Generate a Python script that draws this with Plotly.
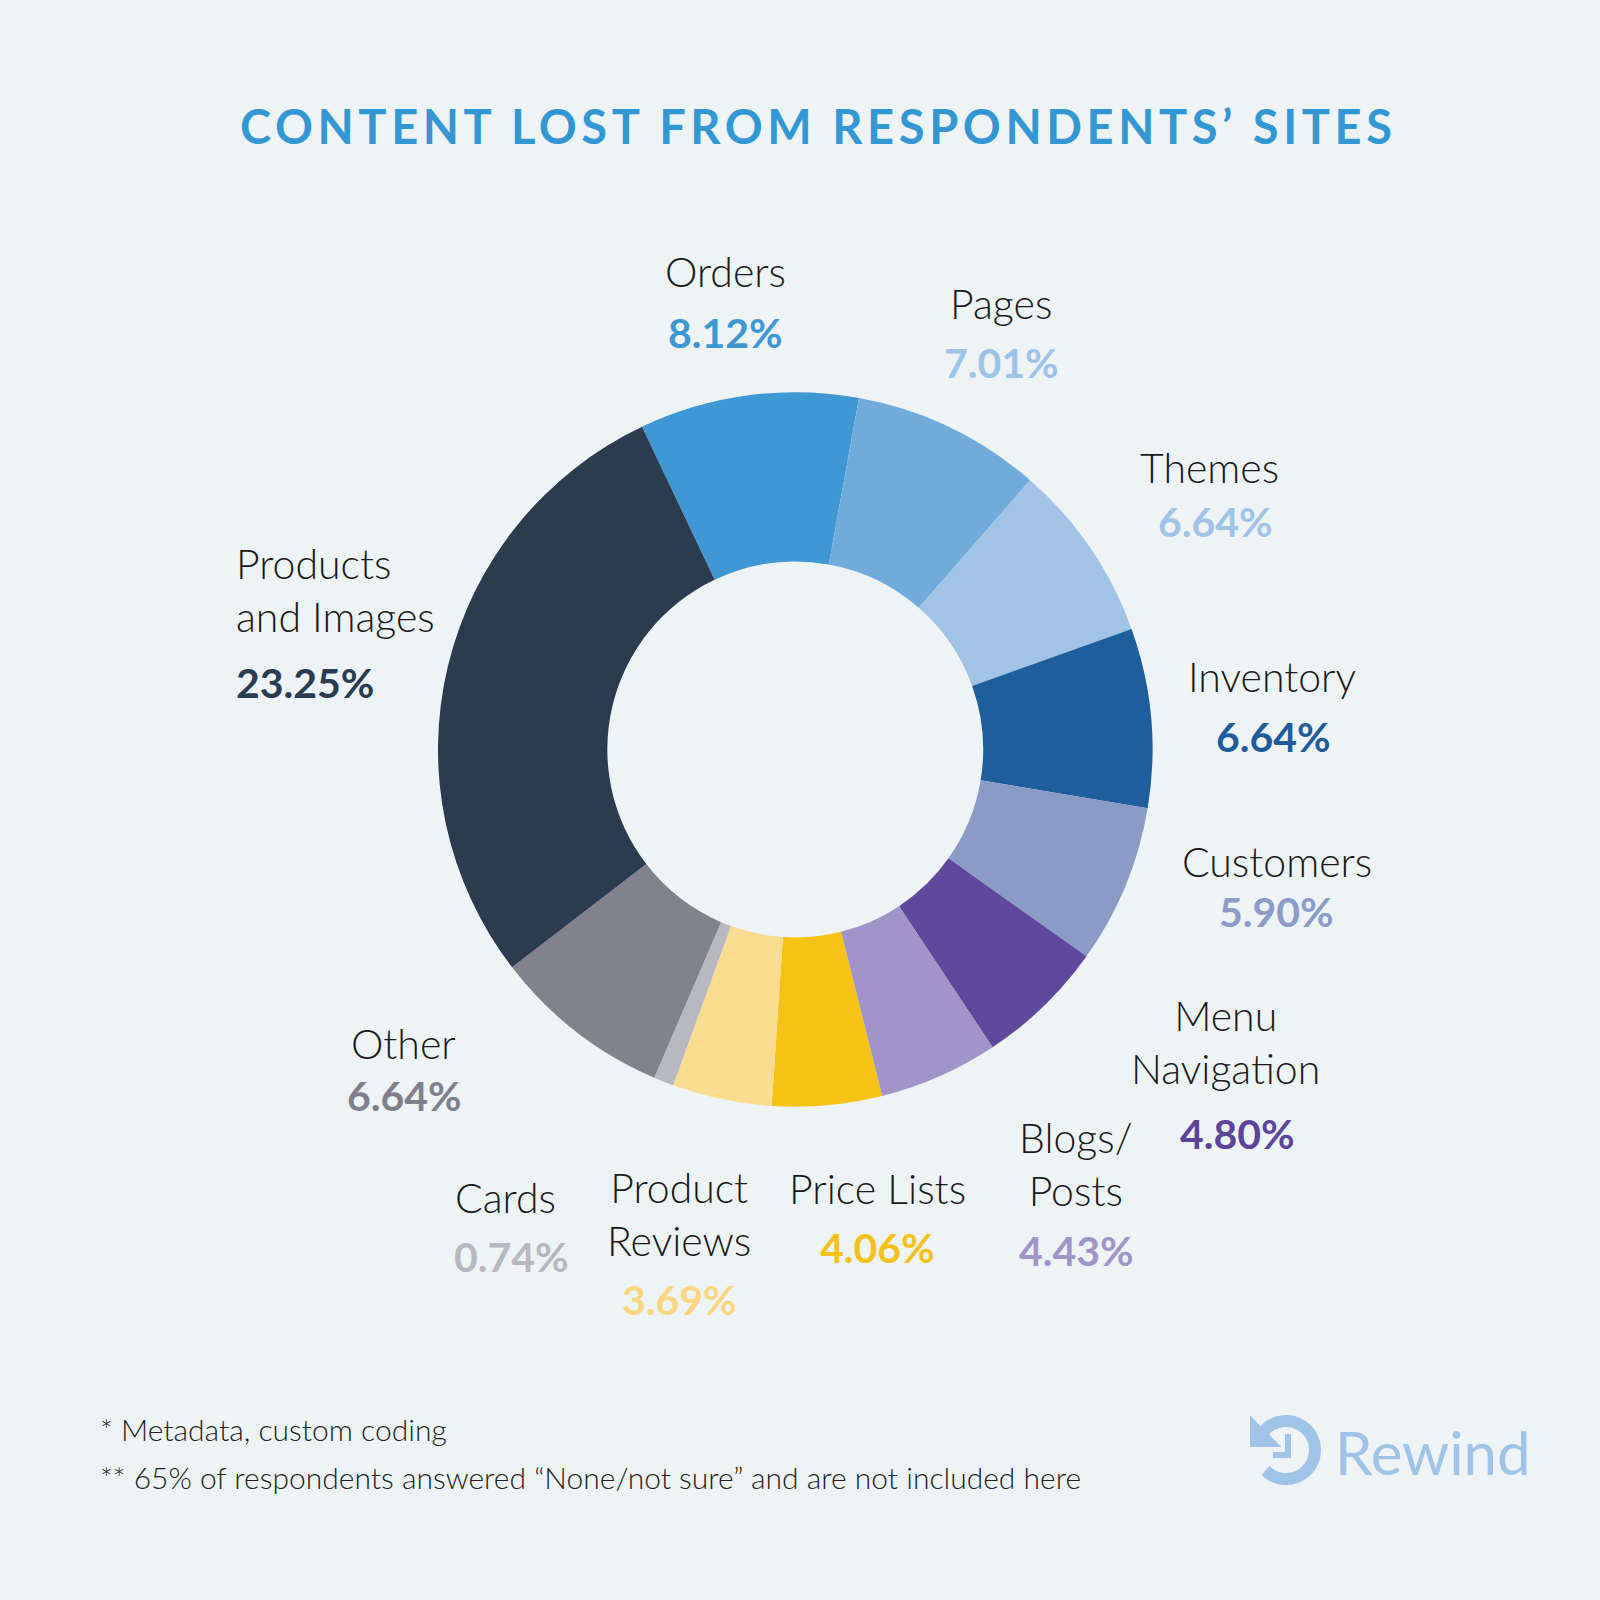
import numpy as np
import plotly.graph_objects as go

W = H = 1600

# data
categories = ["Orders", "Pages", "Themes", "Inventory", "Customers", "Menu Navigation",
              "Blogs/Posts", "Price Lists", "Product Reviews", "Cards", "Other",
              "Products and Images"]
label_text = ["Orders", "Pages", "Themes", "Inventory", "Customers", "Menu<br>Navigation",
              "Blogs/<br>Posts", "Price Lists", "Product<br>Reviews", "Cards", "Other",
              "Products<br>and Images"]
shares = [8.12, 7.01, 6.64, 6.64, 5.90, 4.80, 4.43, 4.06, 3.69, 0.74, 6.64, 23.25]

slice_colors = ["#3F98D4", "#71ABDC", "#A0C3E6", "#1F5E9C", "#8A9CC6", "#60489C",
                "#A194C8", "#F6C315", "#FADD90", "#B8B8C0", "#81828E", "#2B3C50"]
pct_colors = ["#3D97D3", "#9EC3E8", "#A0C4E8", "#1F5C9C", "#8A9CC7", "#5B4499",
              "#A194C8", "#F5C118", "#F9D67F", "#B8B8BE", "#7F808B", "#2A3C51"]

# label placement in pixels: name x, name y, pct x, pct y, anchor
label_pos = [
    (725, 271, 725, 332, "center"),
    (1001, 304, 1001, 363, "center"),
    (1209, 467, 1215, 521, "center"),
    (1272, 676, 1273, 736, "center"),
    (1277, 862, 1276, 911, "center"),
    (1225, 1042, 1237, 1133, "center"),
    (1076, 1164, 1076, 1250, "center"),
    (877, 1188, 877, 1247, "center"),
    (679, 1214, 679, 1299, "center"),
    (505, 1197, 511, 1256, "center"),
    (403, 1043, 404, 1095, "center"),
    (234, 590, 234, 682, "left"),
]

BG = "#EEF3F6"
LIGHT = "Lato Light, Lato"


def px(x):
    return x / W


def py(y):
    return 1 - y / H


fig = go.Figure()
fig.add_trace(go.Pie(
    labels=categories,
    values=shares,
    sort=False,
    direction="clockwise",
    rotation=-25.4,
    hole=0.526,
    marker=dict(colors=slice_colors, line=dict(width=0)),
    textinfo="none",
    hoverinfo="none",
    showlegend=False,
    domain=dict(x=[px(438), px(1152.5)], y=[py(1107), py(392)]),
))

ann = []
for txt, v, col, (nx, ny, qx, qy, anc) in zip(label_text, shares, pct_colors, label_pos):
    ann.append(dict(x=px(nx), y=py(ny), xref="paper", yref="paper", text=txt,
                    showarrow=False, xanchor=anc, yanchor="middle", align=anc,
                    font=dict(family=LIGHT, size=41, weight=300, color="#1A1A1A")))
    ann.append(dict(x=px(qx), y=py(qy), xref="paper", yref="paper", text=f"{v:.2f}%",
                    showarrow=False, xanchor=anc, yanchor="middle",
                    font=dict(family="Lato", size=41, weight=700, color=col)))

# title
ann.append(dict(x=px(818), y=py(126), xref="paper", yref="paper",
                text='<span style="letter-spacing:4.6px">CONTENT LOST FROM RESPONDENTS\u2019 SITES</span>',
                showarrow=False, xanchor="center", yanchor="middle",
                font=dict(family="Lato", size=47, weight=700, color="#3397D4")))

# footnotes
ann.append(dict(x=px(98), y=py(1429), xref="paper", yref="paper",
                text="* Metadata, custom coding", showarrow=False,
                xanchor="left", yanchor="middle",
                font=dict(family=LIGHT, size=30, weight=300, color="#231F20")))
ann.append(dict(x=px(98), y=py(1477), xref="paper", yref="paper",
                text="** 65% of respondents answered \u201cNone/not sure\u201d and are not included here",
                showarrow=False, xanchor="left", yanchor="middle",
                font=dict(family=LIGHT, size=30, weight=300, color="#231F20")))

# Rewind logo
LOGO = "#A0C4E8"
ann.append(dict(x=px(1333), y=py(1452), xref="paper", yref="paper", text="Rewind",
                showarrow=False, xanchor="left", yanchor="middle",
                font=dict(family="Lato", size=60, weight=400, color=LOGO)))

cx, cy, r = 1286, 1450, 29
ang = np.radians(np.linspace(138, -135, 60))
arc = "M " + " L ".join(f"{px(cx + r * np.cos(a)):.5f},{py(cy - r * np.sin(a)):.5f}" for a in ang)
shapes = [
    dict(type="path", path=arc, xref="paper", yref="paper",
         line=dict(color=LOGO, width=12)),
    dict(type="path", xref="paper", yref="paper", fillcolor=LOGO, line=dict(color=LOGO, width=2),
         path=f"M {px(1251)},{py(1418)} L {px(1251)},{py(1446)} L {px(1279)},{py(1446)} Z"),
    dict(type="rect", xref="paper", yref="paper", fillcolor=LOGO, line=dict(width=0),
         x0=px(1285), x1=px(1291), y0=py(1458), y1=py(1434)),
    dict(type="rect", xref="paper", yref="paper", fillcolor=LOGO, line=dict(width=0),
         x0=px(1273), x1=px(1291), y0=py(1458), y1=py(1452)),
]

fig.update_layout(
    width=W, height=H,
    margin=dict(l=0, r=0, t=0, b=0),
    paper_bgcolor=BG, plot_bgcolor=BG,
    annotations=ann, shapes=shapes,
    showlegend=False,
)

# drop the browser's default page margin so the figure fills the window
fig.write_html("out.html", config={"displayModeBar": False},
               post_script="document.body.style.margin='0';")
